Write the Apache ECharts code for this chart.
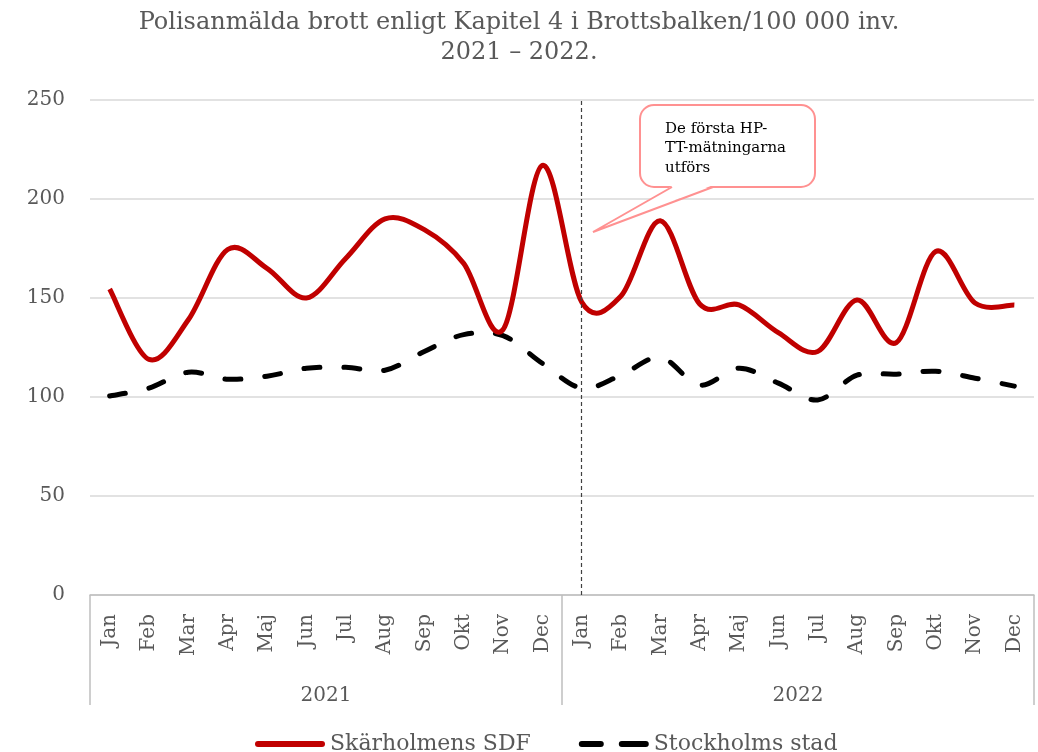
<!DOCTYPE html>
<html><head><meta charset="utf-8">
<script src="https://cdn.jsdelivr.net/npm/echarts@6/dist/echarts.min.js"></script>
<style>html,body{margin:0;padding:0;background:#fff}#c{width:1038px;height:752px}</style>
</head><body><div id="c"></div>
<script>
const months = ['Jan','Feb','Mar','Apr','Maj','Jun','Jul','Aug','Sep','Okt','Nov','Dec',
                'Jan','Feb','Mar','Apr','Maj','Jun','Jul','Aug','Sep','Okt','Nov','Dec'];
const years = ['2021','2022'];
const skarholmen = [154.5,119,139,174.5,165,150,170,190,184.5,167.5,134,217,
                    148,151,189,147,146.5,132.5,123,149,127.5,173.5,147.5,146.5];
const stockholm = [100.5,104.5,112.5,109,110.5,114.5,115,113.5,123,131.5,131,117,
                   104.5,111,120,106,114.5,107,98.5,111,111.5,113,109.5,105.5];
const seriesNames = ['Skärholmens SDF','Stockholms stad'];
const yTicks = [0,50,100,150,200,250];
const annotation = 'De första HP-\nTT-mätningarna\nutförs';
const markerIndex = 12;

const serif = "'DejaVu Serif', 'Liberation Serif', serif";
const grey = '#595959';
const pink = '#FF9191';

// Smooth (Catmull-Rom style) curve through points computed by the axes
function smoothRender(values, lineStyle) {
  return function (params, api) {
    if (params.dataIndex !== 0) return null;
    const p = values.map((v, i) => api.coord([i, v]));
    let d = 'M' + p[0][0] + ',' + p[0][1];
    for (let i = 0; i < p.length - 1; i++) {
      const p0 = p[i - 1] || p[i], p1 = p[i], p2 = p[i + 1], p3 = p[i + 2] || p[i + 1];
      const c1x = p1[0] + (p2[0] - p0[0]) / 6, c1y = p1[1] + (p2[1] - p0[1]) / 6;
      const c2x = p2[0] - (p3[0] - p1[0]) / 6, c2y = p2[1] - (p3[1] - p1[1]) / 6;
      d += ' C' + c1x + ',' + c1y + ' ' + c2x + ',' + c2y + ' ' + p2[0] + ',' + p2[1];
    }
    return {type: 'path', shape: {pathData: d}, style: Object.assign({fill: null}, lineStyle)};
  };
}

const chart = echarts.init(document.getElementById('c'));
chart.setOption({
  animation:false,
  title:{text:'Polisanmälda brott enligt Kapitel 4 i Brottsbalken/100 000 inv.\n2021 – 2022.',
    left:'center', top:3, textStyle:{fontFamily:serif,fontSize:24,fontWeight:'normal',color:grey,lineHeight:30}},
  grid:{left:90,right:4,top:100,bottom:157},
  legend:{top:728,left:250,itemWidth:70,itemHeight:6,itemGap:48,
    textStyle:{fontFamily:serif,fontSize:22,color:grey},
    data:[
      {name:seriesNames[0],icon:'path://M3,0L67,0A3,3 0 0 1 67,6L3,6A3,3 0 0 1 3,0Z'},
      {name:seriesNames[1],icon:'path://M3,0L22,0A3,3 0 0 1 22,6L3,6A3,3 0 0 1 3,0Z M43,0L67,0A3,3 0 0 1 67,6L43,6A3,3 0 0 1 43,0Z'}
    ]},
  xAxis:[
    {type:'category',data:months,boundaryGap:true,position:'bottom',
     axisLine:{lineStyle:{color:'#BFBFBF',width:1.5}},axisTick:{show:false},
     axisLabel:{interval:0,rotate:90,margin:19,fontFamily:serif,fontSize:20,color:grey}},
    {type:'category',data:years,boundaryGap:true,position:'bottom',
     axisLine:{show:false},axisTick:{show:true,interval:0,length:110,lineStyle:{color:'#BFBFBF',width:1.5}},
     axisLabel:{interval:0,margin:91,fontFamily:serif,fontSize:20,color:grey}}
  ],
  yAxis:{type:'value',min:yTicks[0],max:yTicks[yTicks.length-1],interval:50,
    axisLine:{show:false},axisTick:{show:false},
    splitLine:{lineStyle:{color:'#D9D9D9',width:1.5}},
    axisLabel:{margin:25,fontFamily:serif,fontSize:20,color:grey}},
  series:[
    {name:seriesNames[0],type:'custom',xAxisIndex:0,z:3,
     data:skarholmen.map((v,i)=>[i,v]),encode:{x:0,y:1},
     itemStyle:{color:'#C00000'},
     renderItem:smoothRender(skarholmen,{stroke:'#C00000',lineWidth:5,lineJoin:'round'}),
     markLine:{silent:true,symbol:['none','none'],label:{show:false},
       lineStyle:{color:'#404040',type:[4,3],width:1.2},data:[{xAxis:markerIndex}]}},
    {name:seriesNames[1],type:'custom',xAxisIndex:0,z:2,
     data:stockholm.map((v,i)=>[i,v]),encode:{x:0,y:1},
     itemStyle:{color:'#000000'},
     renderItem:smoothRender(stockholm,{stroke:'#000000',lineWidth:5,lineDash:[16,24],lineCap:'round'})}
  ],
  graphic:[
    {type:'rect',z:100,shape:{x:640,y:105,width:175,height:82,r:14},
     style:{fill:'#ffffff',stroke:pink,lineWidth:2}},
    {type:'polygon',z:101,shape:{points:[[673,185.5],[593,232],[712,185.5]]},
     style:{fill:'#ffffff',stroke:null}},
    {type:'polyline',z:102,shape:{points:[[672,187],[593,232],[713,187]]},
     style:{fill:null,stroke:pink,lineWidth:2}},
    {type:'text',z:103,left:665,top:119,style:{text:annotation,fontFamily:serif,fontSize:15,lineHeight:19.5,fill:'#000000'}}
  ]
});
</script></body></html>
